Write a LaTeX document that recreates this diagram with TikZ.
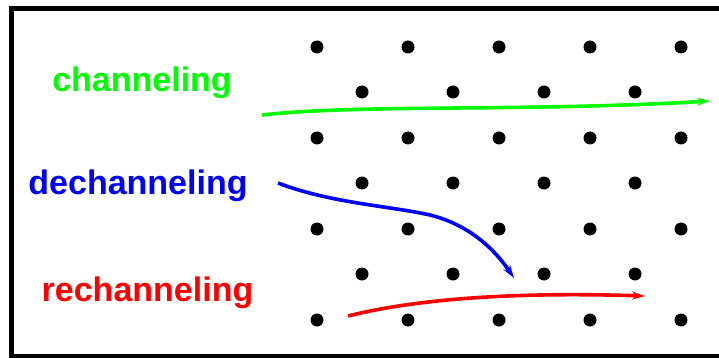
\documentclass[tikz,border=0pt]{standalone}
\usepackage{fontspec}
\setmainfont{Liberation Sans}
\usetikzlibrary{arrows.meta}

\begin{document}
\begin{tikzpicture}[x=1pt,y=-1pt,
  lbl/.style={font=\fontsize{34}{40}\selectfont\bfseries,anchor=base,inner sep=0pt},
  track/.style={line width=3.6pt,-{Stealth[length=13pt,width=8pt]}}]
\useasboundingbox (0,0) rectangle (719,358);
\clip (0,0) rectangle (719,358);
\draw[line width=5pt] (11.5,8.5) rectangle (740,356.5);
% crystal rows: long rows (5 atoms) and shifted short rows (4 atoms)
\foreach \r in {0,1,2,3}{
  \foreach \c in {0,...,4}{
    \fill (317+91*\c,47+91*\r) circle (6.5);
  }
}
\foreach \r in {0,1,2}{
  \foreach \c in {0,...,3}{
    \fill (362+91*\c,92+91*\r) circle (6.5);
  }
}
% labels
\node[lbl,green] (chan) at (142,92) {channeling};
\node[lbl,blue] (dechan) at (138,194) {dechanneling};
\node[lbl,red] (rechan) at (147.5,301) {rechanneling};
% particle tracks
\coordinate (gs) at (262,115);
\coordinate (ge) at (710,101);
\coordinate (bs) at (278,183);
\coordinate (bm) at (430,215);
\coordinate (be) at (514,278);
\coordinate (rs) at (348,316);
\coordinate (re) at (645,296);
\draw[track,green] (gs) .. controls (360,104) and (520,112) .. (ge);
\draw[track,blue] (bs) .. controls (330,203) and (390,206) .. (bm)
  .. controls (470,225) and (495,250) .. (be);
\draw[track,red] (rs) .. controls (420,298) and (520,292) .. (re);
\end{tikzpicture}
\end{document}
